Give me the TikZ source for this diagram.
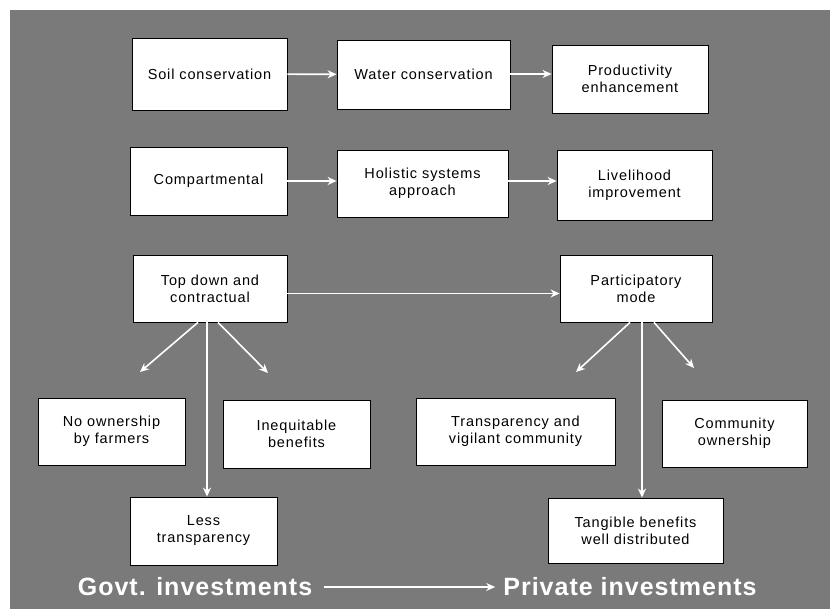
\documentclass[tikz,border=0pt]{standalone}
\usepackage{fontspec}
\setmainfont{Liberation Sans}
\usetikzlibrary{arrows.meta}
\begin{document}
\begin{tikzpicture}[x=1pt,y=-1pt,
  box/.style={draw=black, line width=0.8pt, fill=white, align=center, inner sep=2pt,
    font=\fontsize{14.5}{17}\selectfont\addfontfeatures{LetterSpace=6}},
  arr/.style={draw=white, line width=1.6pt, -{Stealth[length=9pt,width=8pt]}},
  big/.style={text=white, font=\fontsize{25}{28}\selectfont\bfseries\addfontfeatures{LetterSpace=4}, inner sep=0pt}]
\useasboundingbox (0,0) rectangle (830,609);
\fill[black!52] (10,10) rectangle (830,609);
% row 1
\node[box, minimum width=155pt, minimum height=72pt] (soil) at (209.5,74) {Soil conservation};
\node[box, minimum width=173pt, minimum height=69pt] (water) at (423.5,74.5) {Water conservation};
\node[box, minimum width=156pt, minimum height=68pt] (prod) at (630,79) {Productivity\\enhancement};
% row 2
\node[box, minimum width=157pt, minimum height=68pt] (comp) at (208.5,181) {Compartmental};
\node[box, minimum width=171pt, minimum height=67pt] (holi) at (422.5,183.5) {Holistic systems\\approach};
\node[box, minimum width=155pt, minimum height=70pt] (live) at (634.5,185) {Livelihood\\improvement};
% row 3
\node[box, minimum width=154pt, minimum height=67pt] (top) at (210,288.5) {Top down and\\contractual};
\node[box, minimum width=152pt, minimum height=67pt] (part) at (636,288.5) {Participatory\\mode};
% row 4
\node[box, minimum width=147pt, minimum height=67pt] (noown) at (111.5,431.5) {No ownership\\by farmers};
\node[box, minimum width=147pt, minimum height=68pt] (ineq) at (296.5,434) {Inequitable\\benefits};
\node[box, minimum width=199pt, minimum height=67pt] (trans) at (515.5,431.5) {Transparency and\\vigilant community};
\node[box, minimum width=145pt, minimum height=67pt] (comm) at (734.5,433.5) {Community\\ownership};
% row 5
\node[box, minimum width=147pt, minimum height=68pt] (less) at (203.5,531) {Less\\transparency};
\node[box, minimum width=175pt, minimum height=65pt] (tang) at (635.5,530.5) {Tangible benefits\\well distributed};
% bottom labels
\node[big] (govt) at (195,587) {Govt. investments};
\node[big] (priv) at (630,587) {Private investments};
% free ends
\coordinate (tl) at (140,372);
\coordinate (tr) at (268,373);
\coordinate (pl) at (576,372);
\coordinate (pr) at (694,368);
% connectors
\draw[arr] (soil) -- (water);
\draw[arr] (water.east |- soil) -- (prod.west |- soil);
\draw[arr] (comp) -- (holi.west |- comp);
\draw[arr] (holi.east |- comp) -- (live.west |- comp);
\draw[arr] ([yshift=-5pt]top.east) -- ([yshift=-5pt]top.east -| part.west);
\draw[arr] ([xshift=-3pt]top.south) -- ([xshift=-3pt]top.south |- less.north);
\draw[arr] ([xshift=-12pt]top.south) -- (tl);
\draw[arr] ([xshift=8pt]top.south) -- (tr);
\draw[arr] ([xshift=6pt]part.south) -- ([xshift=6pt]part.south |- tang.north);
\draw[arr] ([xshift=-6pt]part.south) -- (pl);
\draw[arr] ([xshift=18pt]part.south) -- (pr);
\draw[arr] ([xshift=12pt]govt.east) -- ([xshift=-8pt]priv.west);
\end{tikzpicture}
\end{document}
